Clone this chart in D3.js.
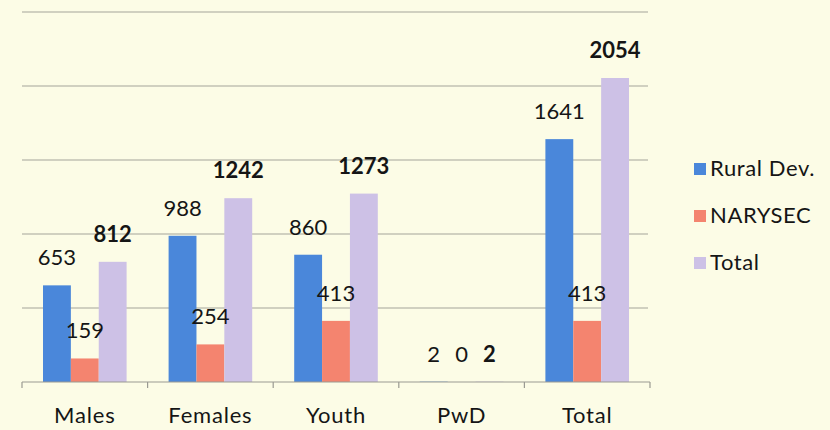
<!DOCTYPE html>
<html>
<head>
<meta charset="utf-8">
<script src="https://cdn.jsdelivr.net/npm/d3@7/dist/d3.min.js"></script>
<style>
  body { margin: 0; background: #fcfce6; }
  svg { display: block; font-family: Lato, "Open Sans", sans-serif; }
</style>
</head>
<body>
<div id="chart"></div>
<script>
// data
var categories = ["Males", "Females", "Youth", "PwD", "Total"];
var seriesNames = ["Rural Dev.", "NARYSEC", "Total"];
var ruralDev = [653, 988, 860, 2, 1641];
var narysec = [159, 254, 413, 0, 413];
var totals = [812, 1242, 1273, 2, 2054];
var gridValues = [0, 500, 1000, 1500, 2000, 2500];
var colors = ["#4a87da", "#f4846f", "#cdc1e6"];

var width = 830, height = 430;
var svg = d3.select("#chart")
    .append("svg")
    .attr("width", width)
    .attr("height", height);

var x = d3.scaleBand()
    .domain(categories)
    .range([22, 650]);

var x1 = d3.scaleBand()
    .domain(seriesNames)
    .range([21, x.bandwidth() - 21]);

var y = d3.scaleLinear()
    .domain([0, 2500])
    .range([382, 12]);

// gridlines
svg.append("g")
  .selectAll("line")
  .data(gridValues.slice(1))
  .enter().append("line")
  .attr("x1", 22)
  .attr("x2", 648)
  .attr("y1", function(d) { return y(d); })
  .attr("y2", function(d) { return y(d); })
  .attr("stroke", "#a3a39a")
  .attr("stroke-width", 1.2);

var table = categories.map(function(c, i) {
    return {cat: c, vals: [ruralDev[i], narysec[i], totals[i]]};
});

var groups = svg.selectAll(".grp")
  .data(table)
  .enter().append("g")
  .attr("class", "grp")
  .attr("transform", function(d) { return "translate(" + x(d.cat) + ",0)"; });

groups.selectAll("rect")
  .data(function(d) { return d.vals; })
  .enter().append("rect")
  .attr("x", function(d, i) { return x1(seriesNames[i]); })
  .attr("width", x1.bandwidth())
  .attr("y", function(d) { return y(d); })
  .attr("height", function(d) { return y(0) - y(d); })
  .style("fill", function(d, i) { return colors[i]; });

groups.selectAll("text")
  .data(function(d) { return d.vals; })
  .enter().append("text")
  .attr("x", function(d, i) { return x1(seriesNames[i]) + x1.bandwidth() / 2; })
  .attr("y", function(d) { return y(d) - 20; })
  .style("text-anchor", "middle")
  .style("font-size", "22px")
  .style("font-weight", function(d, i) { return i == 2 ? "bold" : "normal"; })
  .style("fill", "#151515")
  .text(function(d) { return d; });

// x axis
var xAxis = svg.append("g")
  .attr("transform", "translate(0," + y(0) + ")");
xAxis.append("line")
  .attr("x1", 22).attr("x2", 650)
  .attr("stroke", "#9a9a92").attr("stroke-width", 1.2);
xAxis.selectAll(".tk")
  .data(categories.concat(["end"]))
  .enter().append("line")
  .attr("class", "tk")
  .attr("x1", function(d, i) { return i < categories.length ? x(d) : x.range()[1]; })
  .attr("x2", function(d, i) { return i < categories.length ? x(d) : x.range()[1]; })
  .attr("y1", 0).attr("y2", 6)
  .attr("stroke", "#9a9a92").attr("stroke-width", 1.2);
xAxis.selectAll(".lbl")
  .data(categories)
  .enter().append("text")
  .attr("class", "lbl")
  .attr("x", function(d) { return x(d) + x.bandwidth() / 2; })
  .attr("y", 41)
  .style("text-anchor", "middle")
  .style("font-size", "22px")
  .style("letter-spacing", "0.8px")
  .style("fill", "#151515")
  .text(function(d) { return d; });

// legend
var legend = svg.selectAll(".legend")
  .data(seriesNames)
  .enter().append("g")
  .attr("class", "legend")
  .attr("transform", function(d, i) { return "translate(694," + (176 + i * 47) + ")"; });

legend.append("rect")
  .attr("x", 0)
  .attr("y", -13)
  .attr("width", 12)
  .attr("height", 12)
  .style("fill", function(d, i) { return colors[i]; });

legend.append("text")
  .attr("x", 16)
  .attr("y", 0)
  .style("font-size", "22px")
  .style("letter-spacing", "0.6px")
  .style("fill", "#151515")
  .text(function(d) { return d; });
</script>
</body>
</html>
